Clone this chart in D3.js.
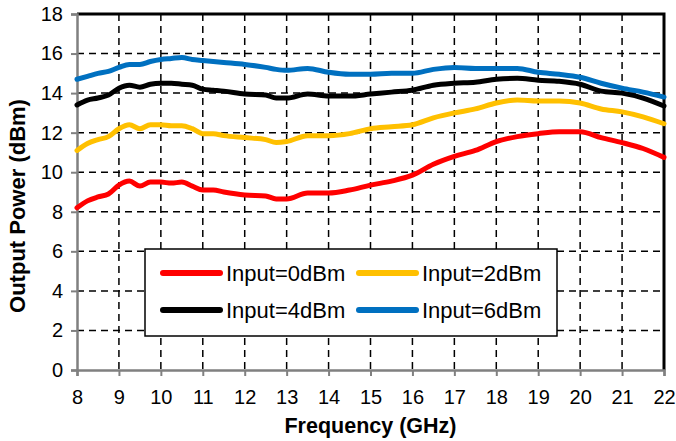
<!DOCTYPE html>
<html>
<head>
<meta charset="utf-8">
<script src="https://cdn.jsdelivr.net/npm/d3@7"></script>
<style>
  body { margin: 0; background: #fff; }
  text { font-family: "Liberation Sans", Arial, sans-serif; }
</style>
</head>
<body>
<div id="chart"></div>
<script>
// 频率 (GHz)
const freq = [8, 8.25, 8.5, 8.75, 9, 9.25, 9.5, 9.75, 10, 10.25, 10.5, 10.75, 11, 11.25, 11.5,
    12, 12.5, 12.75, 13, 13.5, 14, 14.5, 15, 15.5, 16, 16.5, 17, 17.5, 18, 18.5, 19, 19.5, 20, 20.5, 21, 21.5, 22];

// 输出功率 (dBm)
const input0 = [8.2, 8.55, 8.75, 8.9, 9.35, 9.55, 9.3, 9.5, 9.5, 9.45, 9.5, 9.3, 9.1, 9.1, 9.0,
    8.85, 8.8, 8.65, 8.65, 8.95, 8.95, 9.1, 9.35, 9.55, 9.85, 10.4, 10.8, 11.1, 11.55, 11.8, 11.95, 12.05, 12.05, 11.75, 11.5, 11.2, 10.75];
const input2 = [11.1, 11.45, 11.65, 11.8, 12.2, 12.4, 12.2, 12.4, 12.4, 12.35, 12.35, 12.2, 11.95, 11.95, 11.85,
    11.75, 11.65, 11.5, 11.55, 11.85, 11.85, 11.95, 12.2, 12.3, 12.4, 12.75, 13.0, 13.2, 13.5, 13.65, 13.6, 13.6, 13.5, 13.2, 13.05, 12.8, 12.45];
const input4 = [13.4, 13.65, 13.75, 13.9, 14.25, 14.4, 14.3, 14.45, 14.5, 14.5, 14.45, 14.4, 14.2, 14.15, 14.1,
    13.95, 13.9, 13.75, 13.75, 13.95, 13.85, 13.85, 13.95, 14.05, 14.15, 14.4, 14.5, 14.55, 14.7, 14.75, 14.65, 14.6, 14.45, 14.1, 14.0, 13.75, 13.35];
const input6 = [14.7, 14.85, 15.0, 15.1, 15.3, 15.45, 15.45, 15.6, 15.7, 15.75, 15.8, 15.7, 15.65, 15.6, 15.55,
    15.45, 15.3, 15.2, 15.15, 15.25, 15.05, 14.95, 14.95, 15.0, 15.0, 15.2, 15.3, 15.25, 15.25, 15.25, 15.05, 14.95, 14.8, 14.5, 14.25, 14.05, 13.8];

const seriesNames = ['Input=0dBm', 'Input=2dBm', 'Input=4dBm', 'Input=6dBm'];
const seriesColors = ['#ff0000', '#ffc000', '#000000', '#0070c0'];
const xTicks = d3.range(8, 23, 1);
const yTicks = d3.range(0, 19, 2);

const dimensions = {
    width: 676,
    height: 441,
    margin: {top: 14, right: 12, bottom: 71, left: 77}
};
dimensions.boundWidth = dimensions.width - dimensions.margin.left - dimensions.margin.right;
dimensions.boundHeight = dimensions.height - dimensions.margin.top - dimensions.margin.bottom;

const svg = d3.select('#chart')
    .append('svg')
    .attr('width', dimensions.width)
    .attr('height', dimensions.height);

const bounds = svg.append('g')
    .attr('transform', `translate(${dimensions.margin.left},${dimensions.margin.top})`);

const xScale = d3.scaleLinear().domain([8, 22]).range([0, dimensions.boundWidth]);
const yScale = d3.scaleLinear().domain([0, 18]).range([dimensions.boundHeight, 0]);

// 网格线
bounds.append('g')
    .selectAll('line')
    .data(xTicks.filter(d => d > 8 && d < 22))
    .join('line')
    .attr('x1', d => xScale(d)).attr('x2', d => xScale(d))
    .attr('y1', 0).attr('y2', dimensions.boundHeight)
    .attr('stroke', '#000').attr('stroke-width', 1.5).attr('stroke-dasharray', '7,5');

bounds.append('g')
    .selectAll('line')
    .data(yTicks.filter(d => d > 0 && d < 18))
    .join('line')
    .attr('x1', 0).attr('x2', dimensions.boundWidth)
    .attr('y1', d => yScale(d)).attr('y2', d => yScale(d))
    .attr('stroke', '#000').attr('stroke-width', 1.5).attr('stroke-dasharray', '7,5');

// 上边框和右边框
bounds.append('path')
    .attr('d', `M0,0H${dimensions.boundWidth}V${dimensions.boundHeight}`)
    .attr('fill', 'none')
    .attr('stroke', '#000')
    .attr('stroke-width', 3);

// 坐标轴
const xAxis = bounds.append('g')
    .attr('transform', `translate(0,${dimensions.boundHeight})`)
    .call(d3.axisBottom(xScale).tickValues(xTicks).tickSize(6).tickPadding(14).tickFormat(d3.format('d')));
const yAxis = bounds.append('g')
    .call(d3.axisLeft(yScale).tickValues(yTicks).tickSize(6).tickPadding(8).tickFormat(d3.format('d')));

[xAxis, yAxis].forEach(axis => {
    axis.select('.domain').attr('stroke', '#808080').attr('stroke-width', 2.5);
    axis.selectAll('.tick line').attr('stroke', '#808080').attr('stroke-width', 2);
    axis.selectAll('.tick text')
        .attr('fill', '#000')
        .style('font-size', '20px')
        .style('font-family', '"Liberation Sans", Arial, sans-serif');
});

// 曲线
const allSeries = [input0, input2, input4, input6];
const lineGenerator = d3.line()
    .x((d, i) => xScale(freq[i]))
    .y(d => yScale(d))
    .curve(d3.curveMonotoneX);

bounds.append('g')
    .selectAll('path')
    .data(allSeries)
    .join('path')
    .attr('d', d => lineGenerator(d))
    .attr('fill', 'none')
    .attr('stroke', (d, i) => seriesColors[i])
    .attr('stroke-width', 5)
    .attr('stroke-linejoin', 'round')
    .attr('stroke-linecap', 'round');

// 图例
const legend = svg.append('g').attr('transform', 'translate(145,249)');
legend.append('rect')
    .attr('width', 412).attr('height', 87)
    .attr('fill', '#fff').attr('stroke', '#000').attr('stroke-width', 1.5);

const legendItems = legend.selectAll('g.item')
    .data(seriesNames)
    .join('g')
    .attr('class', 'item')
    .attr('transform', (d, i) => `translate(${18 + (i % 2) * 196},${24 + Math.floor(i / 2) * 37})`);
legendItems.append('line')
    .attr('x1', 0).attr('x2', 57)
    .attr('stroke', (d, i) => seriesColors[i])
    .attr('stroke-width', 6)
    .attr('stroke-linecap', 'round');
legendItems.append('text')
    .attr('x', 63).attr('y', 8)
    .style('font-size', '22px')
    .text(d => d);

// 轴标题
svg.append('text')
    .attr('x', dimensions.margin.left + dimensions.boundWidth / 2)
    .attr('y', 433)
    .attr('text-anchor', 'middle')
    .style('font-size', '21.5px')
    .style('font-weight', 'bold')
    .text('Frequency (GHz)');

svg.append('text')
    .attr('transform', `translate(25,${dimensions.margin.top + dimensions.boundHeight / 2 + 14}) rotate(-90)`)
    .attr('text-anchor', 'middle')
    .style('font-size', '22px')
    .style('font-weight', 'bold')
    .text('Output Power (dBm)');
</script>
</body>
</html>
